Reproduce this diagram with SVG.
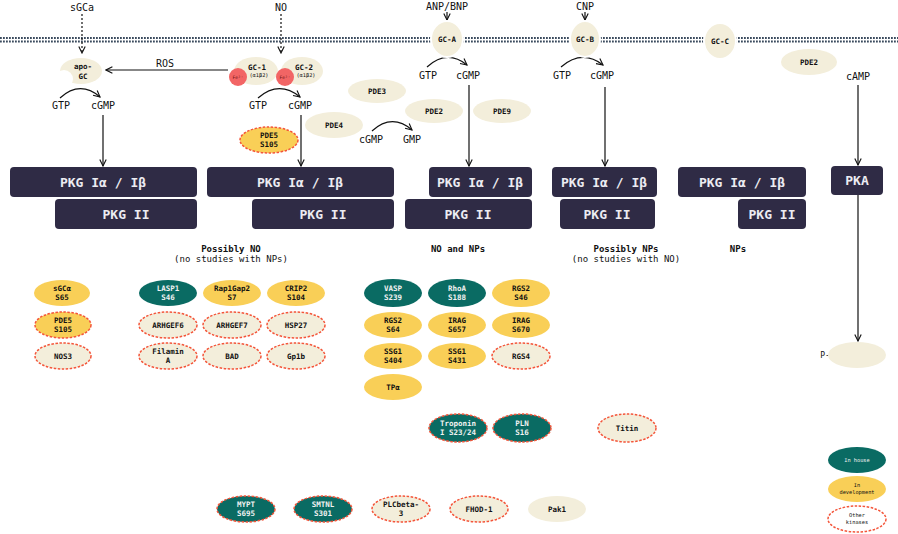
<svg xmlns="http://www.w3.org/2000/svg" width="898" height="534" viewBox="0 0 898 534">
<defs>
<marker id="ah" viewBox="0 0 10 10" refX="9" refY="5" markerWidth="8" markerHeight="8" markerUnits="userSpaceOnUse" orient="auto">
<path d="M1,1 L9,5 L1,9" fill="none" stroke="#111" stroke-width="1.4"/>
</marker>
<style>
text{font-family:"DejaVu Sans Mono","Liberation Mono",monospace;text-anchor:middle;fill:#111111}
.lbl{font-size:10px}
.sm{font-size:7.5px;font-weight:bold}
.xs{font-size:5.3px}
.head{font-size:9px;font-weight:bold}
.sub{font-size:9px}
.box{fill:#2f2b45}
.bt{font-size:13px;font-weight:bold;fill:#ececf2}
.teal{fill:#0a6b63}
.yel{fill:#f9cf57}
.beige{fill:#f3eedb}
.white{fill:#ffffff}
.dash{stroke:#f4553a;stroke-width:1.5;stroke-dasharray:2.5 1.5}
.w{fill:#f2f2f2}
.con{fill:none;stroke:#111;stroke-width:1.2}
.mem{stroke:#3b4b5e;stroke-width:1.8;stroke-dasharray:1.8 1.2}
</style>
</defs>
<rect width="898" height="534" fill="#ffffff"/>

<g id="membrane">
<line x1="0" y1="38" x2="898" y2="38" class="mem"/>
<line x1="0" y1="41.5" x2="898" y2="41.5" class="mem"/>
</g>

<g id="connectors">
<path d="M82,14 V53" class="con" stroke-dasharray="2 2" marker-end="url(#ah)"/>
<path d="M281,14 V53" class="con" stroke-dasharray="2 2" marker-end="url(#ah)"/>
<path d="M447,12 V20" class="con" marker-end="url(#ah)"/>
<path d="M585,12 V20" class="con" marker-end="url(#ah)"/>
<path d="M228,70 H106" class="con" marker-end="url(#ah)"/>
<path d="M60,98 Q80,80 100,97" class="con" stroke-width="1.5" marker-end="url(#ah)"/>
<path d="M258,98 Q279,80 300,97" class="con" stroke-width="1.5" marker-end="url(#ah)"/>
<path d="M427,67 Q447,49 467,65" class="con" stroke-width="1.5" marker-end="url(#ah)"/>
<path d="M561,67 Q582,49 603,65" class="con" stroke-width="1.5" marker-end="url(#ah)"/>
<path d="M372,131 Q392,113 412,130" class="con" stroke-width="1.5" marker-end="url(#ah)"/>
<path d="M103,115 V166" class="con" marker-end="url(#ah)"/>
<path d="M301,115 V166" class="con" marker-end="url(#ah)"/>
<path d="M469,85 V166" class="con" marker-end="url(#ah)"/>
<path d="M605,87 V166" class="con" marker-end="url(#ah)"/>
<path d="M858,85 V165" class="con" marker-end="url(#ah)"/>
<path d="M858,195 V341" class="con" marker-end="url(#ah)"/>
</g>

<g id="labels">
<text x="82" y="11" class="lbl">sGCa</text>
<text x="281" y="11" class="lbl">NO</text>
<text x="447" y="10" class="lbl">ANP/BNP</text>
<text x="585" y="10" class="lbl">CNP</text>
<text x="165" y="67" class="lbl">ROS</text>
<text x="61" y="109" class="lbl">GTP</text>
<text x="103" y="109" class="lbl">cGMP</text>
<text x="258" y="109" class="lbl">GTP</text>
<text x="300" y="109" class="lbl">cGMP</text>
<text x="428" y="79" class="lbl">GTP</text>
<text x="468" y="79" class="lbl">cGMP</text>
<text x="562" y="79" class="lbl">GTP</text>
<text x="602" y="79" class="lbl">cGMP</text>
<text x="371" y="143" class="lbl">cGMP</text>
<text x="412" y="143" class="lbl">GMP</text>
<text x="858" y="80" class="lbl">cAMP</text>
<text x="825" y="358" style="font-size:8px">P-</text>
<text x="231" y="252" class="head">Possibly NO</text>
<text x="231" y="262" class="sub">(no studies with NPs)</text>
<text x="458" y="252" class="head">NO and NPs</text>
<text x="626" y="252" class="head">Possibly NPs</text>
<text x="626" y="262" class="sub">(no studies with NO)</text>
<text x="738" y="252" class="head">NPs</text>
</g>

<g id="apo-GC">
<ellipse cx="81" cy="71" rx="21" ry="13" class="beige"/>
<circle cx="64" cy="79" r="9" class="white"/>
<text x="83" y="69" class="sm">apo-</text>
<text x="83" y="79" class="sm">GC</text>
</g>
<g id="GC-1">
<ellipse cx="256" cy="71" rx="22" ry="14" class="beige"/>
<circle cx="238" cy="77" r="9" fill="#f26565"/>
<text x="257" y="70" class="sm">GC-1</text>
<text x="259" y="77" class="xs">(α1β2)</text>
<text x="238" y="79" style="font-size:4.5px;fill:#6a1010">Fe²⁺</text>
</g>
<g id="GC-2">
<ellipse cx="302" cy="71" rx="21" ry="14" class="beige"/>
<circle cx="285" cy="77" r="9" fill="#f26565"/>
<text x="304" y="70" class="sm">GC-2</text>
<text x="306" y="77" class="xs">(α1β2)</text>
<text x="285" y="79" style="font-size:4.5px;fill:#6a1010">Fe²⁺</text>
</g>
<g id="GC-A">
<ellipse cx="447" cy="39" rx="16" ry="18" class="beige" stroke="#fff" stroke-width="2"/>
<text x="447" y="42" class="sm">GC-A</text>
</g>
<g id="GC-B">
<ellipse cx="585" cy="39" rx="15" ry="18" class="beige" stroke="#fff" stroke-width="2"/>
<text x="585" y="42" class="sm">GC-B</text>
</g>
<g id="GC-C">
<ellipse cx="720" cy="41" rx="16" ry="18" class="beige" stroke="#fff" stroke-width="2"/>
<text x="720" y="44" class="sm">GC-C</text>
</g>

<g id="PDE3"><ellipse cx="377" cy="91" rx="29" ry="12" class="beige"/><text x="377" y="94" class="sm">PDE3</text></g>
<g id="PDE2a"><ellipse cx="434" cy="111" rx="29" ry="12" class="beige"/><text x="434" y="114" class="sm">PDE2</text></g>
<g id="PDE9"><ellipse cx="502" cy="111" rx="29" ry="12" class="beige"/><text x="502" y="114" class="sm">PDE9</text></g>
<g id="PDE4"><ellipse cx="334" cy="125" rx="29" ry="13" class="beige"/><text x="334" y="128" class="sm">PDE4</text></g>
<g id="PDE2b"><ellipse cx="809" cy="62" rx="28" ry="13" class="beige"/><text x="809" y="65" class="sm">PDE2</text></g>
<g id="PDE5-top"><ellipse cx="269" cy="140" rx="29" ry="13" class="yel dash"/><text x="269" y="138" class="sm">PDE5</text><text x="269" y="147" class="sm">S105</text></g>

<g id="pkg1">
<rect x="10" y="167" width="187" height="30" rx="4" class="box"/><text x="103" y="187" class="bt">PKG Iα / Iβ</text>
<rect x="55" y="199" width="142" height="30" rx="4" class="box"/><text x="126" y="219" class="bt">PKG II</text>
</g>
<g id="pkg2">
<rect x="207" y="167" width="187" height="30" rx="4" class="box"/><text x="300" y="187" class="bt">PKG Iα / Iβ</text>
<rect x="252" y="199" width="142" height="30" rx="4" class="box"/><text x="323" y="219" class="bt">PKG II</text>
</g>
<g id="pkg3">
<rect x="429" y="167" width="103" height="30" rx="4" class="box"/><text x="480" y="187" class="bt">PKG Iα / Iβ</text>
<rect x="405" y="199" width="127" height="30" rx="4" class="box"/><text x="468" y="219" class="bt">PKG II</text>
</g>
<g id="pkg4">
<rect x="552" y="167" width="105" height="30" rx="4" class="box"/><text x="604" y="187" class="bt">PKG Iα / Iβ</text>
<rect x="560" y="199" width="95" height="30" rx="4" class="box"/><text x="607" y="219" class="bt">PKG II</text>
</g>
<g id="pkg5">
<rect x="678" y="167" width="128" height="30" rx="4" class="box"/><text x="742" y="187" class="bt">PKG Iα / Iβ</text>
<rect x="738" y="199" width="68" height="30" rx="4" class="box"/><text x="772" y="219" class="bt">PKG II</text>
</g>
<g id="PKA">
<rect x="831" y="166" width="52" height="29" rx="4" class="box"/><text x="857" y="185" class="bt">PKA</text>
</g>
<g id="P-target"><ellipse cx="857" cy="355" rx="29" ry="13" class="beige"/></g>

<g id="sGCa-S65"><ellipse cx="62" cy="293" rx="28" ry="13" class="yel"/><text x="62" y="291" class="sm">sGCα</text><text x="62" y="300" class="sm">S65</text></g>
<g id="PDE5-S105"><ellipse cx="63" cy="325" rx="28" ry="13" class="yel dash"/><text x="63" y="323" class="sm">PDE5</text><text x="63" y="332" class="sm">S105</text></g>
<g id="NOS3"><ellipse cx="63" cy="356" rx="28" ry="13" class="beige dash"/><text x="63" y="359" class="sm">NOS3</text></g>
<g id="LASP1"><ellipse cx="168" cy="293" rx="29" ry="13" class="teal"/><text x="168" y="291" class="sm w">LASP1</text><text x="168" y="300" class="sm w">S46</text></g>
<g id="Rap1Gap2"><ellipse cx="232" cy="293" rx="29" ry="13" class="yel"/><text x="232" y="291" class="sm">Rap1Gap2</text><text x="232" y="300" class="sm">S7</text></g>
<g id="CRIP2"><ellipse cx="296" cy="293" rx="29" ry="13" class="yel"/><text x="296" y="291" class="sm">CRIP2</text><text x="296" y="300" class="sm">S104</text></g>
<g id="ARHGEF6"><ellipse cx="168" cy="325" rx="29" ry="13" class="beige dash"/><text x="168" y="328" class="sm">ARHGEF6</text></g>
<g id="ARHGEF7"><ellipse cx="232" cy="325" rx="29" ry="13" class="beige dash"/><text x="232" y="328" class="sm">ARHGEF7</text></g>
<g id="HSP27"><ellipse cx="296" cy="325" rx="29" ry="13" class="beige dash"/><text x="296" y="328" class="sm">HSP27</text></g>
<g id="FilaminA"><ellipse cx="168" cy="356" rx="29" ry="13" class="beige dash"/><text x="168" y="354" class="sm">Filamin</text><text x="168" y="363" class="sm">A</text></g>
<g id="BAD"><ellipse cx="232" cy="356" rx="29" ry="13" class="beige dash"/><text x="232" y="359" class="sm">BAD</text></g>
<g id="Gp1b"><ellipse cx="296" cy="356" rx="29" ry="13" class="beige dash"/><text x="296" y="359" class="sm">Gp1b</text></g>

<g id="VASP"><ellipse cx="393" cy="293" rx="29" ry="14" class="teal"/><text x="393" y="291" class="sm w">VASP</text><text x="393" y="300" class="sm w">S239</text></g>
<g id="RhoA"><ellipse cx="457" cy="293" rx="29" ry="14" class="teal"/><text x="457" y="291" class="sm w">RhoA</text><text x="457" y="300" class="sm w">S188</text></g>
<g id="RGS2-S46"><ellipse cx="521" cy="293" rx="29" ry="14" class="yel"/><text x="521" y="291" class="sm">RGS2</text><text x="521" y="300" class="sm">S46</text></g>
<g id="RGS2-S64"><ellipse cx="393" cy="325" rx="29" ry="13" class="yel"/><text x="393" y="323" class="sm">RGS2</text><text x="393" y="332" class="sm">S64</text></g>
<g id="IRAG-S657"><ellipse cx="457" cy="325" rx="29" ry="13" class="yel"/><text x="457" y="323" class="sm">IRAG</text><text x="457" y="332" class="sm">S657</text></g>
<g id="IRAG-S670"><ellipse cx="521" cy="325" rx="29" ry="13" class="yel"/><text x="521" y="323" class="sm">IRAG</text><text x="521" y="332" class="sm">S670</text></g>
<g id="SSG1-S404"><ellipse cx="393" cy="356" rx="29" ry="13" class="yel"/><text x="393" y="354" class="sm">SSG1</text><text x="393" y="363" class="sm">S404</text></g>
<g id="SSG1-S431"><ellipse cx="457" cy="356" rx="29" ry="13" class="yel"/><text x="457" y="354" class="sm">SSG1</text><text x="457" y="363" class="sm">S431</text></g>
<g id="RGS4"><ellipse cx="521" cy="356" rx="29" ry="13" class="beige dash"/><text x="521" y="359" class="sm">RGS4</text></g>
<g id="TPa"><ellipse cx="393" cy="387" rx="29" ry="13" class="yel"/><text x="393" y="390" class="sm">TPα</text></g>

<g id="TroponinI"><ellipse cx="458" cy="428" rx="29" ry="14" class="teal dash"/><text x="458" y="426" class="sm w">Troponin</text><text x="458" y="435" class="sm w">I S23/24</text></g>
<g id="PLN"><ellipse cx="522" cy="428" rx="29" ry="14" class="teal dash"/><text x="522" y="426" class="sm w">PLN</text><text x="522" y="435" class="sm w">S16</text></g>
<g id="Titin"><ellipse cx="627" cy="428" rx="29" ry="14" class="beige dash"/><text x="627" y="431" class="sm">Titin</text></g>

<g id="MYPT"><ellipse cx="246" cy="509" rx="29" ry="13" class="teal dash"/><text x="246" y="507" class="sm w">MYPT</text><text x="246" y="516" class="sm w">S695</text></g>
<g id="SMTNL"><ellipse cx="323" cy="509" rx="29" ry="13" class="teal dash"/><text x="323" y="507" class="sm w">SMTNL</text><text x="323" y="516" class="sm w">S301</text></g>
<g id="PLCbeta3"><ellipse cx="401" cy="509" rx="29" ry="13" class="beige dash"/><text x="401" y="507" class="sm">PLCbeta-</text><text x="401" y="516" class="sm">3</text></g>
<g id="FHOD1"><ellipse cx="479" cy="509" rx="29" ry="13" class="beige dash"/><text x="479" y="512" class="sm">FHOD-1</text></g>
<g id="Pak1"><ellipse cx="557" cy="509" rx="29" ry="13" class="beige"/><text x="557" y="512" class="sm">Pak1</text></g>

<g id="legend-inhouse"><ellipse cx="857" cy="460" rx="29" ry="13" class="teal"/><text x="857" y="462" class="xs w">In house</text></g>
<g id="legend-dev"><ellipse cx="857" cy="489" rx="29" ry="13" class="yel"/><text x="857" y="487" class="xs">In</text><text x="857" y="494" class="xs">development</text></g>
<g id="legend-other"><ellipse cx="857" cy="519" rx="29" ry="13" class="white dash"/><text x="857" y="517" class="xs">Other</text><text x="857" y="524" class="xs">kinases</text></g>
</svg>
